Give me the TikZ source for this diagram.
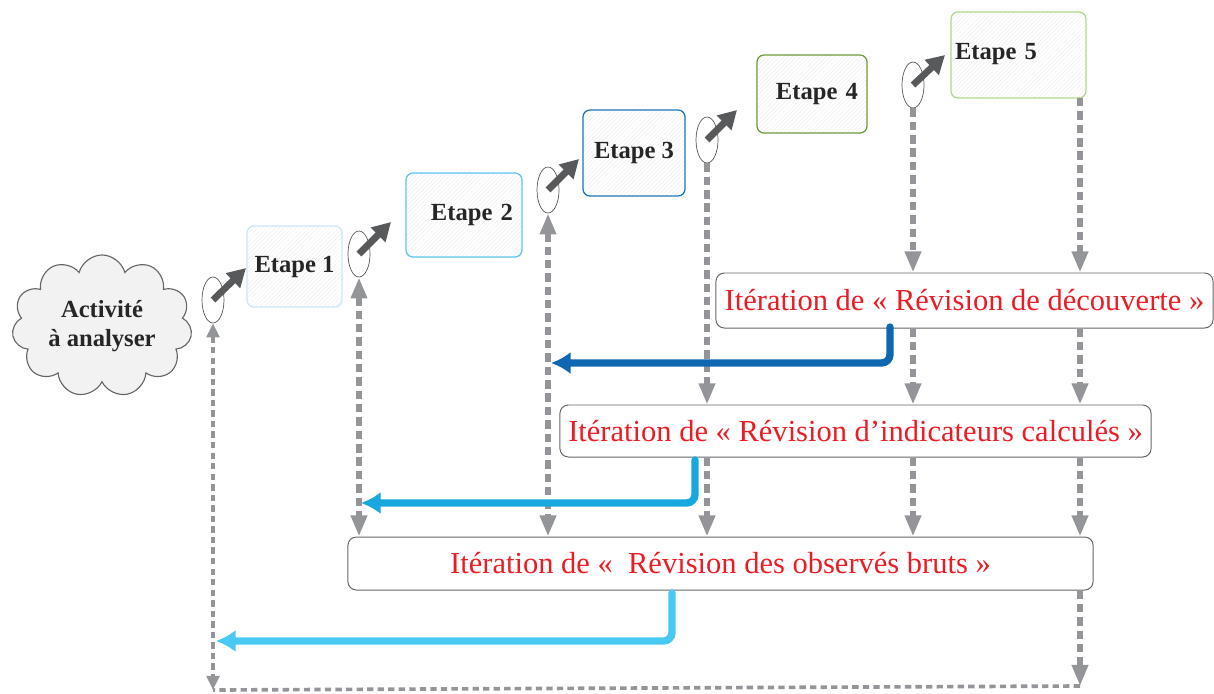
\documentclass[tikz,border=0pt]{standalone}
\usepackage{fontspec}
\setmainfont{Liberation Serif}
\usepackage{tikz}
\usetikzlibrary{arrows,arrows.meta,shapes.geometric,shapes.symbols,patterns}

\definecolor{lgray}{HTML}{939598}
\definecolor{dgray}{HTML}{58595B}
\definecolor{ired}{HTML}{ED1C24}
\definecolor{eone}{HTML}{C9E8F6}
\definecolor{etwo}{HTML}{5BC5F0}
\definecolor{ethree}{HTML}{1B75BC}
\definecolor{efour}{HTML}{6F9A3A}
\definecolor{efive}{HTML}{B2D88A}
\definecolor{bone}{HTML}{0F67B1}
\definecolor{btwo}{HTML}{17A8E0}
\definecolor{bthree}{HTML}{47C9F3}

\begin{document}
\begin{tikzpicture}[x=0.025cm,y=-0.025cm,
  stage/.style={rectangle, rounded corners=5pt, line width=0.9pt, inner sep=0pt,
    pattern=north east lines, pattern color=black!6, text=black!85,
    font=\fontsize{17.5}{20}\selectfont\bfseries},
  iter/.style={rectangle, rounded corners=6pt, draw=black!60, line width=0.7pt,
    fill=white, text=ired, font=\fontsize{21.7}{26}\selectfont},
  turn/.style={ellipse, draw=black!65, line width=0.5pt, fill=white,
    minimum width=0.55cm, minimum height=1.15cm, inner sep=0pt},
  twist/.style={draw=dgray, line width=4.8pt, -{Triangle[length=13pt,width=14pt]}},
  link/.style={draw=lgray, line width=3.8pt, dash pattern=on 6pt off 3.5pt,
    >={Triangle[length=15pt,width=11pt]}, ->},
  thin link/.style={draw=lgray, line width=2.6pt, dash pattern=on 4.5pt off 3pt,
    >={Triangle[length=10pt,width=9pt]}},
  back/.style={line width=5.2pt, rounded corners=6pt, line cap=round,
    -{Latex[length=14pt,width=16pt]}}]
\useasboundingbox (0,0) rectangle (1214,693);

% activite
\node[cloud, cloud puffs=11, cloud ignores aspect, draw=black!60, line width=0.8pt,
  fill=black!5, minimum width=4.5cm, minimum height=3.55cm, align=center,
  font=\fontsize{17.5}{21}\selectfont\bfseries, text=black!85] (A) at (102,326) {Activité\\à analyser};

% etapes
\node[stage, draw=eone, minimum width=2.375cm, minimum height=2.025cm] (E1) at (294.5,266.5) {Etape 1};
\node[stage, draw=etwo, minimum width=2.9cm, minimum height=2.1cm, text width=2.45cm, align=right] (E2) at (464,215) {\raisebox{4pt}{Etape 2}};
\node[stage, draw=ethree, minimum width=2.55cm, minimum height=2.15cm] (E3) at (634,153) {\raisebox{2pt}{Etape 3}};
\node[stage, draw=efour, minimum width=2.75cm, minimum height=1.95cm, text width=2.3cm, align=right] (E4) at (812,94) {\raisebox{3pt}{Etape 4}};
\node[stage, draw=efive, minimum width=3.375cm, minimum height=2.15cm, text width=3.175cm, align=left] (E5) at (1018.5,55) {\raisebox{5pt}{Etape 5}};

% iterations
\node[iter, minimum width=12.425cm, minimum height=1.375cm] (I1) at (964.5,300.5) {Itération de « Révision de découverte »};
\node[iter, minimum width=14.775cm, minimum height=1.3cm] (I2) at (855.5,431) {Itération de « Révision d’indicateurs calculés »};
\node[iter, minimum width=18.625cm, minimum height=1.325cm] (I3) at (720.5,563.5) {Itération de «~ Révision des observés bruts »};

% colonnes
\node[turn] (R0) at (213,300) {};
\node[turn] (R1) at (359,254) {};
\node[turn] (R2) at (548,190) {};
\node[turn] (R3) at (707,140) {};
\node[turn] (R4) at (913,85) {};
\coordinate (K5) at (1080,98);
\coordinate (B0) at (213,690);
\coordinate (B1) at (1080,686);

\draw[thin link, <->] (R0.south) -- (B0);
\draw[thin link] (B1) -- (B0);
\draw[link, <->] (R1.south) -- (R1.south |- I3.north);
\draw[link, <->] (R2.south) -- (R2.south |- I3.north);
\draw[link] (R3.south) -- (R3.south |- I2.north);
\draw[link] (R3.south |- I2.south) -- (R3.south |- I3.north);
\draw[link] (R4.south) -- (R4.south |- I1.north);
\draw[link] (R4.south |- I1.south) -- (R4.south |- I2.north);
\draw[link] (R4.south |- I2.south) -- (R4.south |- I3.north);
\draw[link] (K5) -- (K5 |- I1.north);
\draw[link] (K5 |- I1.south) -- (K5 |- I2.north);
\draw[link] (K5 |- I2.south) -- (K5 |- I3.north);
\draw[link] (K5 |- I3.south) -- (B1);

% rotations
\draw[twist] (R0.center) -- ([shift={(33,-32)}]R0.center);
\draw[twist] (R1.center) -- ([shift={(32,-32)}]R1.center);
\draw[twist] (R2.center) -- ([shift={(31,-31)}]R2.center);
\draw[twist] (R3.center) -- ([shift={(30,-30)}]R3.center);
\draw[twist] (R4.center) -- ([shift={(32,-30)}]R4.center);

% retours
\coordinate (S1) at (890,327);
\coordinate (T1) at (551,363);
\coordinate (S2) at (695,460);
\coordinate (T2) at (361,503);
\coordinate (S3) at (672,593);
\coordinate (T3) at (216,641);
\draw[back, draw=bone] (S1) |- (T1);
\draw[back, draw=btwo] (S2) |- (T2);
\draw[back, draw=bthree] (S3) |- (T3);

\end{tikzpicture}
\end{document}
